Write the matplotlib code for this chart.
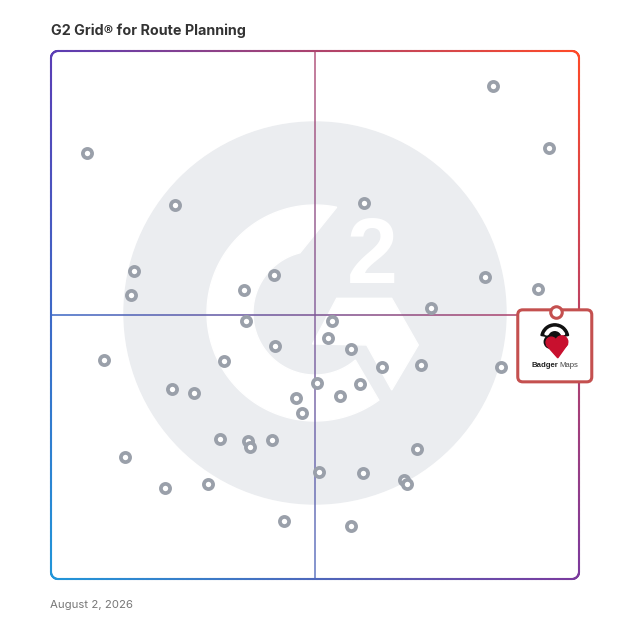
import numpy as np
import matplotlib
matplotlib.use("Agg")
import matplotlib.pyplot as plt
from matplotlib.collections import LineCollection
from matplotlib.patches import Circle, Polygon, FancyBboxPatch, Wedge

# Datos: posiciones en la cuadricula (0-100), x = satisfaccion, y = presencia de mercado
satisfaccion = [83.7, 94.3, 6.8, 23.5, 59.3, 15.7, 42.2, 82.2, 15.2, 36.6, 92.2,
                72.0, 36.9, 53.2, 52.5, 42.4, 56.8, 10.1, 32.8, 62.7, 70.1, 85.2,
                50.3, 23.0, 27.1, 58.6, 46.4, 54.8, 47.5, 32.0, 37.4, 37.7, 41.9,
                69.4, 14.0, 50.8, 59.1, 66.8, 67.4, 21.5, 29.8, 44.2, 56.9]
presencia = [93.4, 81.6, 80.7, 70.8, 71.3, 58.3, 57.5, 57.2, 53.7, 54.8, 54.9,
             51.4, 48.8, 48.8, 45.7, 44.1, 43.6, 41.4, 41.3, 40.2, 40.5, 40.2,
             37.1, 35.9, 35.2, 37.0, 34.3, 34.6, 31.4, 26.5, 26.2, 25.0, 26.3,
             24.6, 23.1, 20.3, 20.0, 18.8, 17.9, 17.3, 17.9, 10.9, 10.1]
badger_x = 95.6
badger_y = 50.6

titulo = "G2 Grid® for Route Planning"
fecha = "August 2, 2026"

# Colores de las esquinas del degradado (sup-izq, sup-der, inf-izq, inf-der)
c_ti = np.array([0x5a, 0x3d, 0xb5]) / 255
c_td = np.array([0xff, 0x4a, 0x28]) / 255
c_bi = np.array([0x21, 0x96, 0xd9]) / 255
c_bd = np.array([0x7b, 0x3a, 0x9e]) / 255

X0, Y0, LADO = 51, 51, 528


def color_degradado(px, py):
    u = np.clip((px - X0) / LADO, 0, 1)
    v = np.clip((py - Y0) / LADO, 0, 1)
    arriba = c_ti * (1 - u) + c_td * u
    abajo = c_bi * (1 - u) + c_bd * u
    return arriba * (1 - v) + abajo * v


def rect_redondeado(x0, y0, x1, y1, r, n=400):
    pts = []
    esquinas = [(x1 - r, y0 + r, -90, 0), (x1 - r, y1 - r, 0, 90),
                (x0 + r, y1 - r, 90, 180), (x0 + r, y0 + r, 180, 270)]
    lados = [((x0 + r, y0), (x1 - r, y0)), ((x1, y0 + r), (x1, y1 - r)),
             ((x1 - r, y1), (x0 + r, y1)), ((x0, y1 - r), (x0, y0 + r))]
    for (a, b), (cx, cy, t0, t1) in zip(lados, esquinas):
        t = np.linspace(0, 1, n)
        pts += list(zip(a[0] + (b[0] - a[0]) * t, a[1] + (b[1] - a[1]) * t))
        ang = np.radians(np.linspace(t0, t1, 20))
        pts += list(zip(cx + r * np.cos(ang), cy + r * np.sin(ang)))
    pts.append(pts[0])
    return np.array(pts)


def linea_degradada(ax, pts, lw, alpha=1.0, z=3):
    segs = np.stack([pts[:-1], pts[1:]], axis=1)
    mid = segs.mean(axis=1)
    cols = [(*color_degradado(mx, my), alpha) for mx, my in mid]
    lc = LineCollection(segs, colors=cols, linewidths=lw, capstyle="round", zorder=z)
    ax.add_collection(lc)


fig = plt.figure(figsize=(6.28, 6.28), dpi=100)

# Eje de fondo en pixeles (y hacia abajo)
fondo = fig.add_axes([0, 0, 1, 1])
fondo.set_xlim(0, 628)
fondo.set_ylim(628, 0)
fondo.axis("off")

# Logo G2 de fondo
cx, cy = 315, 313
fondo.add_patch(Circle((cx, cy), 191, color="#ebedf0", zorder=1))


def pt(r, a):
    a = np.radians(a)
    return (cx + r * np.cos(a), cy - r * np.sin(a))


exterior = [pt(108, a) for a in np.linspace(78.4, 306.2, 120)]
interior = [pt(62, a) for a in np.linspace(310.6, 104, 120)]
fondo.add_patch(Polygon(exterior + interior, closed=True, color="white", zorder=2))
flecha = [(336.7, 298.3), (391.7, 298.3), (418.3, 345), (391.7, 390), (366.7, 345), (312.5, 344)]
fondo.add_patch(Polygon(flecha, closed=True, color="white", zorder=2))
fondo.text(372, 283, "2", color="white", fontsize=66, fontweight="bold",
           family="Liberation Sans", ha="center", va="baseline", zorder=2)

# Lineas centrales y borde con degradado
n = 600
linea_degradada(fondo, np.column_stack([np.linspace(X0, X0 + LADO, n), np.full(n, 315)]), 1.1, 0.75)
linea_degradada(fondo, np.column_stack([np.full(n, 315), np.linspace(Y0, Y0 + LADO, n)]), 1.1, 0.6)
linea_degradada(fondo, rect_redondeado(X0, Y0, X0 + LADO, Y0 + LADO, 7), 1.5)

fondo.text(51, 35, titulo, fontsize=10.3, fontweight="bold", family="Inter", color="#333333")
fondo.text(50, 608.5, fecha, fontsize=8.2, family="Inter", color="#777777")

# Eje de la cuadricula con los productos
grid = fig.add_axes([X0 / 628, (628 - Y0 - LADO) / 628, LADO / 628, LADO / 628])
grid.set_xlim(0, 100)
grid.set_ylim(0, 100)
grid.patch.set_alpha(0)
grid.axis("off")

grid.plot(satisfaccion, presencia, "o", ms=6.6, mfc="white", mec="#9aa0aa", mew=2.7,
          linestyle="none", zorder=5, clip_on=False)

# Caja de Badger Maps colgando de su punto
disp = grid.transData.transform((badger_x, badger_y))
bx, by = fondo.transData.inverted().transform(disp)
rojo = "#c4504f"
fondo.add_patch(FancyBboxPatch((bx - 38, by - 2), 74, 72, boxstyle="round,pad=0,rounding_size=5",
                               fc="white", ec=rojo, lw=2.2, zorder=6))
# Icono del tejon (aproximado): cabeza negra con franja blanca y corazon rojo
fondo.add_patch(Wedge((bx - 1, by + 26), 14, 190, 350, color="#111111", zorder=7))
fondo.add_patch(Wedge((bx - 1, by + 26), 10.5, 200, 340, width=3, color="white", zorder=7))
fondo.add_patch(Circle((bx - 5, by + 30), 6.5, color="#111111", zorder=7))
fondo.add_patch(Circle((bx - 4.5, by + 30.5), 5.2, color="#c8102e", zorder=8))
fondo.add_patch(Circle((bx + 6, by + 30), 6, color="#c8102e", zorder=8))
fondo.add_patch(Polygon([(bx - 9.5, by + 33), (bx + 12, by + 32), (bx + 2, by + 46)],
                        closed=True, color="#c8102e", zorder=8))
fondo.text(bx + 2.5, by + 55, "Badger", fontsize=5.6, fontweight="bold", family="Liberation Sans",
           color="#222222", ha="right", va="baseline", zorder=8)
fondo.text(bx + 4, by + 55, "Maps", fontsize=5.6, family="Liberation Sans",
           color="#444444", ha="left", va="baseline", zorder=8)

grid.plot([badger_x], [badger_y], "o", ms=8.3, mfc="white", mec=rojo, mew=2.2,
          zorder=9, clip_on=False)

fig.savefig("out.png", dpi=100)
